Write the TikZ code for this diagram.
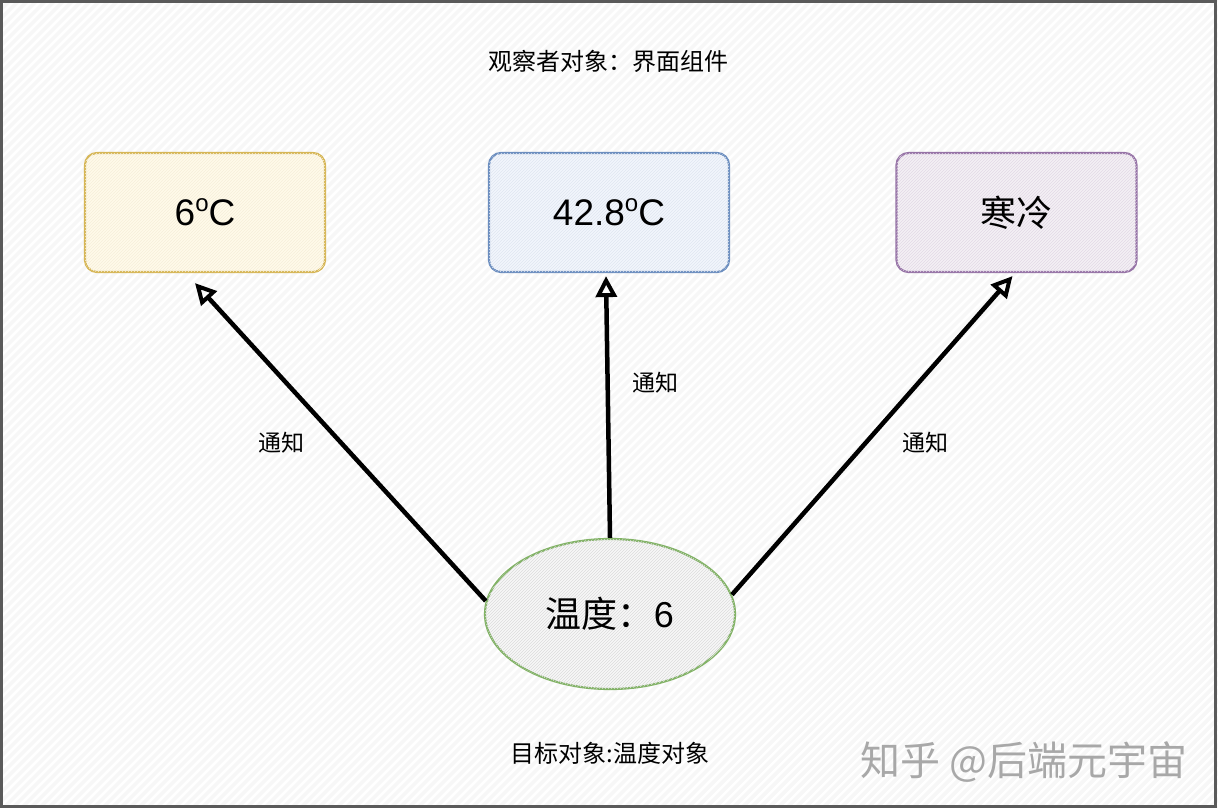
\documentclass[tikz,border=0pt]{standalone}
\usepackage{fontspec}
\setmainfont{Liberation Sans}
\newfontfamily\cjk{Noto Sans CJK SC}
\usetikzlibrary{shapes.geometric,arrows.meta,patterns,calc}
\definecolor{ybord}{HTML}{D6B656}
\definecolor{yfill}{HTML}{FFFAEA}
\definecolor{bbord}{HTML}{6C8EBF}
\definecolor{bfill}{HTML}{F2F6FC}
\definecolor{pbord}{HTML}{9673A6}
\definecolor{pfill}{HTML}{F4F0F5}
\definecolor{gbord}{HTML}{82B366}
\definecolor{gfill}{HTML}{F8F8F8}
\definecolor{bgfill}{HTML}{F7F7F7}
\definecolor{frame}{HTML}{5A5A5A}
\definecolor{wmark}{HTML}{A8A8A8}
\newcommand{\degO}{\raisebox{14pt}{\fontsize{24}{24}\selectfont o}}
\tikzset{
  valbox/.style={draw=#1, line width=2.2pt, rounded corners=12pt, minimum width=240pt, minimum height=119pt, inner sep=0pt},
  bigtxt/.style={font=\fontsize{37}{40}\selectfont},
  notify/.style={-{Triangle[open,length=21pt,width=21pt,line width=4pt]}, line width=4.5pt, black},
  lbl/.style={font=\cjk\fontsize{23}{25}\selectfont, text=black},
}
\begin{document}
\begin{tikzpicture}[x=1pt,y=-1pt]
\useasboundingbox (0,0) rectangle (1218,808);
% background
\fill[bgfill] (0,0) rectangle (1218,808);
\begin{scope}
\clip (0,0) rectangle (1218,808);
\foreach \i in {-820,-811,...,1230}{
  \draw[white, line width=2.5pt] (\i,808) -- (\i+808,0);
}
\end{scope}
\draw[frame, line width=3pt] (1.5,1.5) rectangle (1215.5,806.5);

% title
\node[font=\cjk\fontsize{24}{26}\selectfont] (title) at (608,61) {观察者对象：界面组件};

% boxes
\node[valbox=ybord, fill=yfill, postaction={pattern=north east lines, pattern color=ybord!22}] (l) at (205,212.5) {};
\node[bigtxt] (lt) at (l) {6\degO C};
\node[valbox=bbord, fill=bfill, postaction={pattern=north east lines, pattern color=bbord!22}] (m) at (609,212.5) {};
\node[bigtxt] (mt) at (m) {42.8\degO C};
\node[valbox=pbord, fill=pfill, postaction={pattern=north east lines, pattern color=pbord!28}] (r) at (1016.5,212.5) {};
\node[font=\cjk\fontsize{36}{38}\selectfont] (rt) at (r) {寒冷};

% ellipse
\node[ellipse, draw=gbord, line width=2.2pt, fill=gfill, postaction={pattern=north east lines, pattern color=black!14}, minimum width=250pt, minimum height=150pt, inner sep=0pt] (e) at (610,614) {};
\node[font=\fontsize{36}{38}\selectfont] (et) at (e) {{\cjk 温度：}6};

% arrows
\draw[notify] (e.174) -- ($(l.south)+(-10,10)$);
\draw[notify] (e.north) -- ($(m.south)+(-3,3)$);
\draw[notify] (e.9) -- ($(r.south)+(-4,3)$);

% labels
\node[lbl] (n1) at (281,443) {通知};
\node[lbl] (n2) at (655,383) {通知};
\node[lbl] (n3) at (925,443) {通知};

% bottom
\node[font=\cjk\fontsize{24}{26}\selectfont] (target) at (610,753) {目标对象:温度对象};
\node[font=\cjk\fontsize{40}{42}\selectfont, text=wmark, anchor=west] (wm) at (857,762) {知乎 @后端元宇宙};
\end{tikzpicture}
\end{document}
